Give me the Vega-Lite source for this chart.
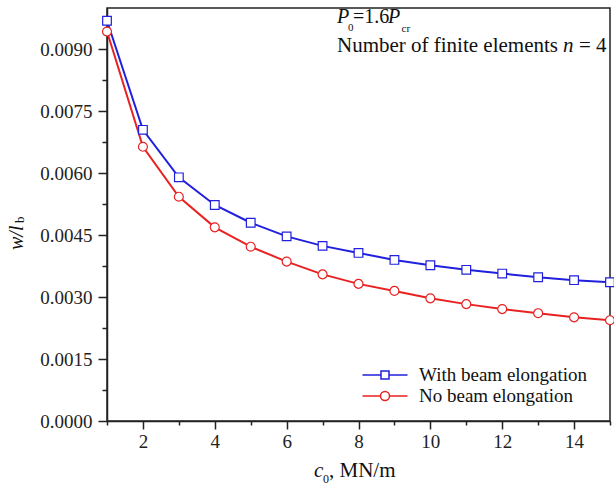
{
  "$schema": "https://vega.github.io/schema/vega-lite/v6.json",
  "width": 503,
  "height": 413,
  "autosize": {"type": "none"},
  "padding": {"left": 107, "top": 8, "right": 4, "bottom": 67},
  "background": "white",
  "config": {
    "view": {"stroke": "#222", "strokeWidth": 1.5},
    "axis": {
      "grid": false,
      "domainColor": "#222",
      "domainWidth": 1.5,
      "tickColor": "#222",
      "tickWidth": 1.5,
      "labelFont": "Liberation Serif",
      "labelFontSize": 19,
      "labelColor": "#222",
      "title": null
    },
    "text": {"font": "Liberation Serif", "color": "#111", "align": "left", "baseline": "alphabetic"}
  },
  "data": {
    "values": [
      {"c0": 1, "w": 0.00969, "series": "With beam elongation"},
      {"c0": 2, "w": 0.00705, "series": "With beam elongation"},
      {"c0": 3, "w": 0.00590, "series": "With beam elongation"},
      {"c0": 4, "w": 0.00523, "series": "With beam elongation"},
      {"c0": 5, "w": 0.00480, "series": "With beam elongation"},
      {"c0": 6, "w": 0.00447, "series": "With beam elongation"},
      {"c0": 7, "w": 0.00424, "series": "With beam elongation"},
      {"c0": 8, "w": 0.00407, "series": "With beam elongation"},
      {"c0": 9, "w": 0.00390, "series": "With beam elongation"},
      {"c0": 10, "w": 0.00377, "series": "With beam elongation"},
      {"c0": 11, "w": 0.00366, "series": "With beam elongation"},
      {"c0": 12, "w": 0.00357, "series": "With beam elongation"},
      {"c0": 13, "w": 0.00348, "series": "With beam elongation"},
      {"c0": 14, "w": 0.00341, "series": "With beam elongation"},
      {"c0": 15, "w": 0.00336, "series": "With beam elongation"},
      {"c0": 1, "w": 0.00943, "series": "No beam elongation"},
      {"c0": 2, "w": 0.00664, "series": "No beam elongation"},
      {"c0": 3, "w": 0.00543, "series": "No beam elongation"},
      {"c0": 4, "w": 0.00469, "series": "No beam elongation"},
      {"c0": 5, "w": 0.00422, "series": "No beam elongation"},
      {"c0": 6, "w": 0.00386, "series": "No beam elongation"},
      {"c0": 7, "w": 0.00355, "series": "No beam elongation"},
      {"c0": 8, "w": 0.00332, "series": "No beam elongation"},
      {"c0": 9, "w": 0.00315, "series": "No beam elongation"},
      {"c0": 10, "w": 0.00297, "series": "No beam elongation"},
      {"c0": 11, "w": 0.00283, "series": "No beam elongation"},
      {"c0": 12, "w": 0.00271, "series": "No beam elongation"},
      {"c0": 13, "w": 0.00261, "series": "No beam elongation"},
      {"c0": 14, "w": 0.00251, "series": "No beam elongation"},
      {"c0": 15, "w": 0.00244, "series": "No beam elongation"}
    ]
  },
  "resolve": {"scale": {"x": "independent", "y": "independent"}},
  "layer": [
    {
      "encoding": {
        "x": {
          "field": "c0", "type": "quantitative",
          "scale": {"domain": [1, 15], "nice": false, "zero": false},
          "axis": {
            "values": [1, 2, 3, 4, 5, 6, 7, 8, 9, 10, 11, 12, 13, 14, 15],
            "labelExpr": "datum.value % 2 == 0 ? datum.label : ''",
            "tickSize": {"condition": {"test": "datum.value % 2 == 0", "value": 8}, "value": 4},
            "labelPadding": 3,
            "labelFlush": false,
            "labelOverlap": false
          }
        },
        "y": {
          "field": "w", "type": "quantitative",
          "scale": {"domain": [0, 0.01], "nice": false, "zero": false},
          "axis": {
            "values": [0, 0.00075, 0.0015, 0.00225, 0.003, 0.00375, 0.0045, 0.00525, 0.006, 0.00675, 0.0075, 0.00825, 0.009, 0.00975],
            "labelExpr": "round(datum.value * 10000 / 7.5) % 2 == 0 ? format(datum.value, '.4f') : ''",
            "tickSize": {"condition": {"test": "round(datum.value * 10000 / 7.5) % 2 == 0", "value": 9}, "value": 5},
            "labelPadding": 6,
            "labelFlush": false,
            "labelOverlap": false
          }
        }
      },
      "layer": [
        {
          "mark": {"type": "line", "strokeWidth": 2},
          "encoding": {
            "stroke": {
              "field": "series", "type": "nominal",
              "scale": {"domain": ["With beam elongation", "No beam elongation"], "range": ["#2020dd", "#e82222"]},
              "legend": {
                "title": null,
                "orient": "none",
                "legendX": 267,
                "legendY": 356,
                "padding": 0,
                "symbolOffset": 0,
                "symbolSize": 400,
                "symbolStrokeWidth": 1.5,
                "labelFont": "Liberation Serif",
                "labelFontSize": 19,
                "labelColor": "#111",
                "labelLimit": 400,
                "labelOffset": 23,
                "rowPadding": -0.5,
                "encoding": {
                  "symbols": {
                    "shape": {"condition": {"test": "datum.value === 'With beam elongation'", "value": "M-2.25,0H-0.4M0.4,0H2.25M-0.4,-0.4H0.4V0.4H-0.4Z"}, "value": "M-2.25,0H-0.45M0.45,0H2.25M0.45,0A0.45,0.45,0,1,1,-0.45,0A0.45,0.45,0,1,1,0.45,0Z"},
                    "fill": {"value": "white"}
                  }
                }
              }
            }
          }
        },
        {
          "transform": [{"filter": "datum.series === 'With beam elongation'"}],
          "mark": {"type": "point", "shape": "square", "filled": true, "fill": "white", "strokeWidth": 1.2, "size": 75, "opacity": 1},
          "encoding": {
            "stroke": {"field": "series", "type": "nominal", "legend": null}
          }
        },
        {
          "transform": [{"filter": "datum.series === 'No beam elongation'"}],
          "mark": {"type": "point", "shape": "circle", "filled": true, "fill": "white", "strokeWidth": 1.2, "size": 80, "opacity": 1},
          "encoding": {
            "stroke": {"field": "series", "type": "nominal", "legend": null}
          }
        }
      ]
    },
    {
      "data": {"values": [{}]},
      "layer": [
        {
          "mark": {"type": "text", "fontStyle": "italic", "fontSize": 20, "angle": 270},
          "encoding": {
            "x": {"datum": -1.338, "scale": {"domain": [1, 15], "nice": false, "zero": false}, "axis": null},
            "y": {"datum": 0.00414, "scale": {"domain": [0, 0.01], "nice": false, "zero": false}, "axis": null},
            "text": {"value": "w/l"}
          }
        },
        {
          "mark": {"type": "text", "fontSize": 13, "angle": 270},
          "encoding": {"x": {"datum": -1.31, "axis": null}, "y": {"datum": 0.004794, "axis": null}, "text": {"value": "b"}}
        },
        {
          "mark": {"type": "text", "fontStyle": "italic", "fontSize": 21},
          "encoding": {"x": {"datum": 6.761, "axis": null}, "y": {"datum": -0.001356, "axis": null}, "text": {"value": "c"}}
        },
        {
          "mark": {"type": "text", "fontSize": 12},
          "encoding": {"x": {"datum": 7.012, "axis": null}, "y": {"datum": -0.001501, "axis": null}, "text": {"value": "0"}}
        },
        {
          "mark": {"type": "text", "fontSize": 21},
          "encoding": {"x": {"datum": 7.179, "axis": null}, "y": {"datum": -0.001356, "axis": null}, "text": {"value": ", MN/m"}}
        },
        {
          "mark": {"type": "text", "fontStyle": "italic", "fontSize": 20},
          "encoding": {"x": {"datum": 7.401, "axis": null}, "y": {"datum": 0.009637, "axis": null}, "text": {"value": "P"}}
        },
        {
          "mark": {"type": "text", "fontSize": 11},
          "encoding": {"x": {"datum": 7.707, "axis": null}, "y": {"datum": 0.009443, "axis": null}, "text": {"value": "0"}}
        },
        {
          "mark": {"type": "text", "fontSize": 20},
          "encoding": {"x": {"datum": 7.846, "axis": null}, "y": {"datum": 0.009637, "axis": null}, "text": {"value": "=1.6"}}
        },
        {
          "mark": {"type": "text", "fontStyle": "italic", "fontSize": 20},
          "encoding": {"x": {"datum": 8.82, "axis": null}, "y": {"datum": 0.009637, "axis": null}, "text": {"value": "P"}}
        },
        {
          "mark": {"type": "text", "fontSize": 11},
          "encoding": {"x": {"datum": 9.2, "axis": null}, "y": {"datum": 0.009419, "axis": null}, "text": {"value": "cr"}}
        },
        {
          "mark": {"type": "text", "fontSize": 21},
          "encoding": {"x": {"datum": 7.401, "axis": null}, "y": {"datum": 0.008935, "axis": null}, "text": {"value": "Number of finite elements"}}
        },
        {
          "mark": {"type": "text", "fontStyle": "italic", "fontSize": 21},
          "encoding": {"x": {"datum": 13.691, "axis": null}, "y": {"datum": 0.008935, "axis": null}, "text": {"value": "n"}}
        },
        {
          "mark": {"type": "text", "fontSize": 21},
          "encoding": {"x": {"datum": 14.137, "axis": null}, "y": {"datum": 0.008935, "axis": null}, "text": {"value": "= 4"}}
        }
      ]
    }
  ]
}
